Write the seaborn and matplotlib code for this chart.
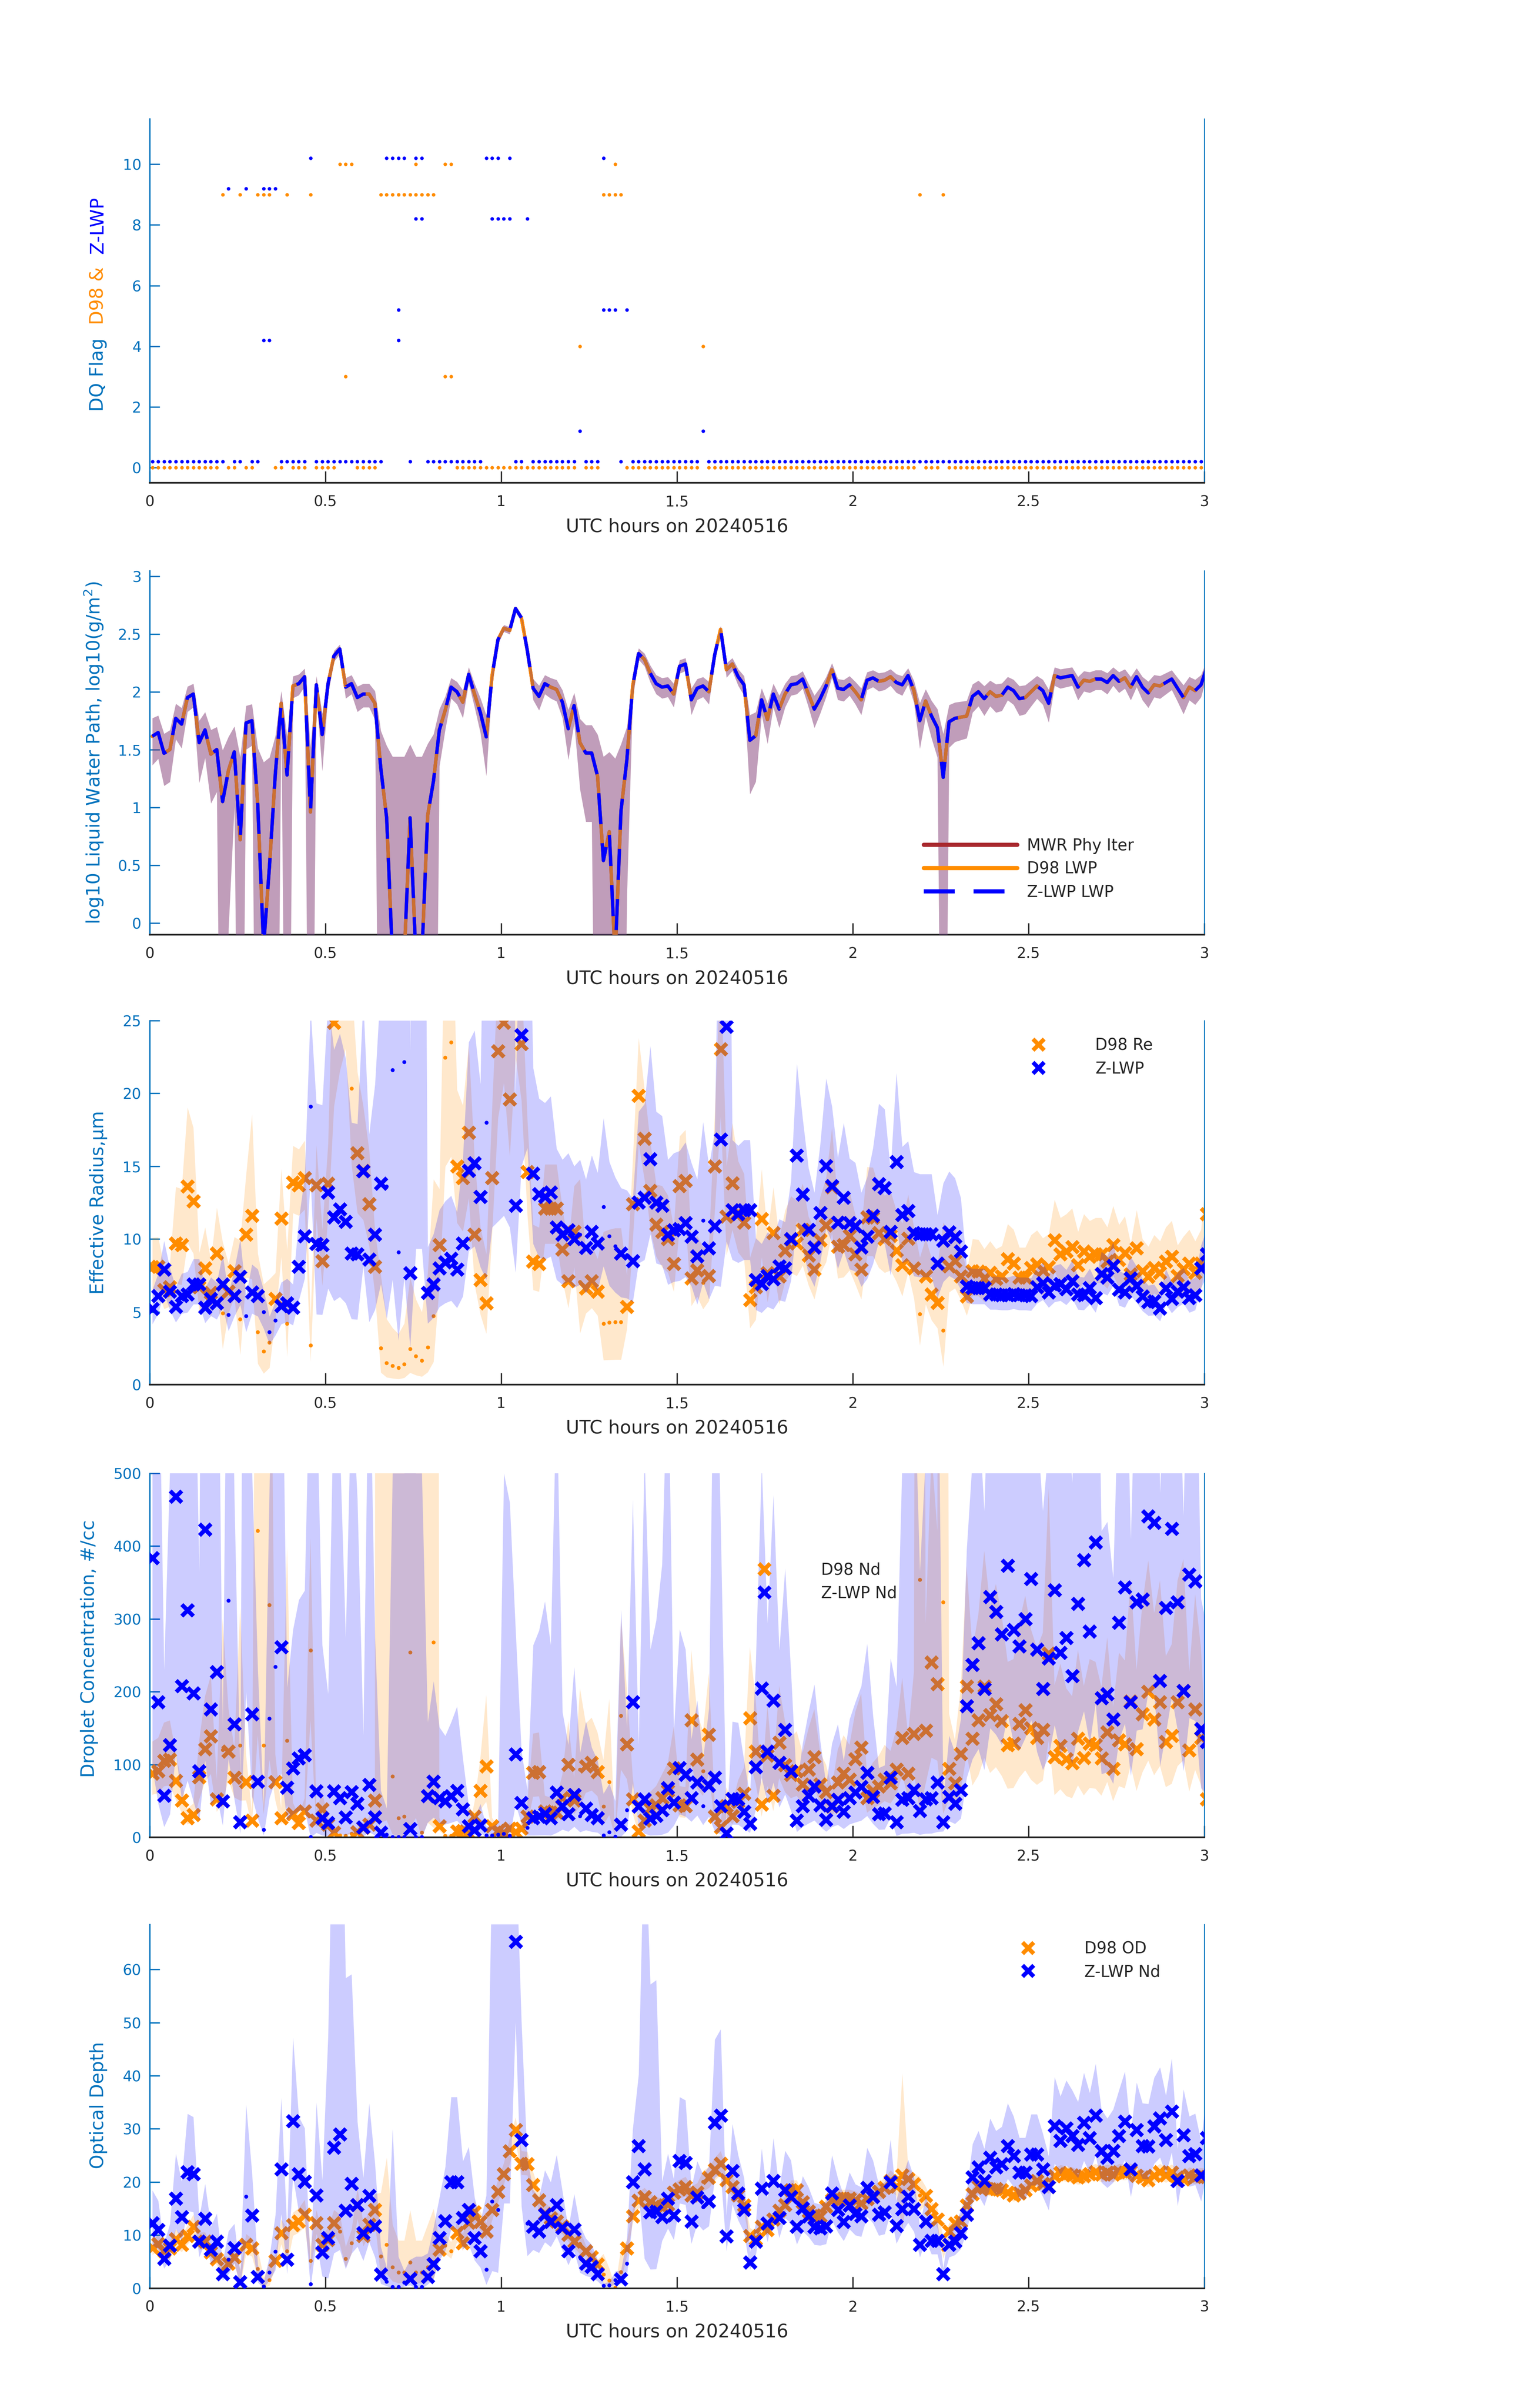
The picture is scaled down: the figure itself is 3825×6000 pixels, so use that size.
import numpy as np
import pandas as pd
import matplotlib
matplotlib.use("Agg")
import matplotlib.pyplot as plt
import seaborn as sns
from matplotlib.lines import Line2D
from matplotlib.ticker import FuncFormatter

# ---------------- data (1-minute samples, 181 points) ----------------
n_minutes = 181
start_offset_min = 0.45

d98_flag = [0,0,0,0,0,0,0,0,0,0,
            0,0,9,0,0,9,0,0,9,9,
            9,0,0,9,0,0,0,9,0,0,
            0,0,10,10,10,0,0,0,0,9,
            9,9,9,9,9,9,9,9,9,0,
            10,10,0,0,0,0,0,0,0,0,
            0,0,0,0,0,0,0,0,0,0,
            0,0,0,4,0,0,0,9,9,9,
            9,0,0,0,0,0,0,0,0,0,
            0,0,0,0,4,0,0,0,0,0,
            0,0,0,0,0,0,0,0,0,0,
            0,0,0,0,0,0,0,0,0,0,
            0,0,0,0,0,0,0,0,0,0,
            0,9,0,0,0,9,0,0,0,0,
            0,0,0,0,0,0,0,0,0,0,
            0,0,0,0,0,0,0,0,0,0,
            0,0,0,0,0,0,0,0,0,0,
            0,0,0,0,0,0,0,0,0,0,
            0]
d98_flag_extra_idx = [33, 45, 50, 51, 79]
d98_flag_extra_val = [3, 10, 3, 3, 10]

z_flag = [0,0,0,0,0,0,0,0,0,0,
          0,0,0,9,0,0,9,0,0,9,
          9,9,0,0,0,0,0,10,0,0,
          0,0,0,0,0,0,0,0,0,0,
          10,10,10,10,0,10,10,0,0,0,
          0,0,0,0,0,0,0,10,10,10,
          8,10,0,0,8,0,0,0,0,0,
          0,0,0,1,0,0,0,10,5,5,
          0,5,0,0,0,0,0,0,0,0,
          0,0,0,0,1,0,0,0,0,0,
          0,0,0,0,0,0,0,0,0,0,
          0,0,0,0,0,0,0,0,0,0,
          0,0,0,0,0,0,0,0,0,0,
          0,0,0,0,0,0,0,0,0,0,
          0,0,0,0,0,0,0,0,0,0,
          0,0,0,0,0,0,0,0,0,0,
          0,0,0,0,0,0,0,0,0,0,
          0,0,0,0,0,0,0,0,0,0,
          0]
z_flag_extra_idx = [19, 20, 42, 42, 45, 46, 58, 59, 61, 77]
z_flag_extra_val = [4, 4, 5, 4, 8, 8, 8, 8, 8, 5]

# log10 LWP (MWR Phy Iter, D98 and Z-LWP agree)
lwp_log = [1.615,1.647,1.468,1.50,1.77,1.72,1.95,1.98,1.56,1.67,
           1.46,1.50,1.05,1.32,1.48,0.72,1.73,1.75,1.02,-0.2,
           0.49,1.29,1.90,1.28,2.05,2.07,2.13,0.96,2.06,1.63,
           2.07,2.31,2.37,2.04,2.07,1.95,1.98,1.98,1.90,1.34,
           0.91,-0.3,-0.3,-0.3,0.91,-0.3,-0.3,0.93,1.23,1.67,
           1.84,2.04,2.00,1.91,2.15,1.98,1.82,1.61,2.14,2.45,
           2.55,2.53,2.72,2.64,2.36,2.03,1.96,2.07,2.04,2.02,
           1.91,1.68,1.88,1.56,1.47,1.47,1.27,0.54,0.79,-0.3,
           0.97,1.41,2.05,2.33,2.28,2.16,2.07,2.04,2.05,1.98,
           2.22,2.24,1.93,2.03,2.05,2.00,2.32,2.54,2.19,2.24,
           2.13,2.06,1.58,1.62,1.93,1.76,1.98,1.85,1.98,2.06,
           2.07,2.11,1.98,1.85,1.94,2.05,2.19,2.03,2.02,2.06,
           2.00,1.93,2.10,2.12,2.09,2.10,2.13,2.08,2.06,2.14,
           2.01,1.75,1.92,1.79,1.69,1.26,1.74,1.77,1.78,1.79,
           1.96,2.00,1.94,2.00,1.96,1.97,2.04,2.01,1.94,1.95,
           2.00,2.05,2.01,1.90,2.14,2.12,2.13,2.14,2.04,2.10,
           2.09,2.11,2.11,2.08,2.14,2.09,2.12,2.04,2.13,2.04,
           1.99,2.06,2.05,2.08,2.11,2.03,1.95,2.04,2.01,2.06,
           2.21]
# LWP uncertainty, g/m2
lwp_sigma = [18,18,14,15,20,20,22,22,20,20,
             18,18,20,20,20,22,22,22,22,24,
             24,22,22,22,24,24,24,24,22,22,
             22,22,22,22,22,22,22,22,22,24,
             26,27,27,27,27,27,27,27,26,24,
             22,22,22,22,22,22,22,22,22,22,
             24,24,24,24,24,22,22,22,22,22,
             22,22,22,22,22,22,24,24,24,26,
             26,24,24,24,24,24,22,22,22,22,
             22,22,22,22,22,22,24,24,22,22,
             22,22,25,25,22,22,22,22,22,22,
             22,22,22,22,22,22,22,22,22,22,
             22,22,22,22,22,22,22,22,22,22,
             22,24,22,22,22,25,22,22,22,22,
             25,25,25,25,25,25,25,25,25,25,
             25,25,25,25,25,25,25,25,25,25,
             25,25,25,25,25,25,25,25,25,25,
             25,25,25,25,25,25,25,25,25,25,
             25]

re_d98 = [8.08,8.1,6.5,6.7,9.7,9.6,13.6,12.6,6.7,8.0,
          6.3,9.0,4.9,6.4,7.8,4.5,10.3,11.6,3.6,2.3,
          2.9,5.9,11.4,4.2,13.9,13.7,14.2,2.7,13.7,8.5,
          13.8,24.85,28,30,20.35,15.9,14.7,12.4,8.1,2.5,
          1.5,1.3,1.16,1.4,2.45,1.95,1.66,2.55,4.7,9.6,
          22.45,23.5,15.0,14.2,17.3,10.3,7.2,5.6,14.2,22.9,
          24.85,19.6,27,23.4,14.6,8.45,8.3,12.1,12.1,12.1,
          9.3,7.1,10.5,7.06,6.6,7.1,6.4,4.2,4.26,4.3,
          4.3,5.35,12.4,19.85,16.9,13.3,11.0,10.5,10.0,8.3,
          13.65,14.0,7.3,7.86,7.0,7.48,14.99,23.04,11.55,13.82,
          11.8,11.13,5.82,6.69,11.38,7.65,10.43,7.44,9.2,9.96,
          9.71,10.63,8.87,7.91,9.93,10.93,13.56,9.49,9.59,10.21,
          8.95,7.91,11.5,11.47,10.43,9.99,10.21,9.2,8.2,10.04,
          7.98,4.85,7.44,6.19,5.63,3.72,8.12,8.48,7.44,6.07,
          7.81,7.78,7.28,7.7,7.28,7.44,8.62,8.32,7.36,7.36,
          8.03,8.28,7.86,8.08,9.93,8.95,9.15,9.46,8.2,9.15,
          8.79,8.95,8.95,8.45,9.59,8.58,9.04,7.58,9.37,7.81,
          7.41,8.03,7.7,8.45,8.79,7.48,7.95,8.32,7.7,8.32,
          11.72]
re_z = [5.2,6.1,7.9,6.4,5.35,6.1,6.2,6.9,6.9,5.3,
        5.9,5.6,6.9,4.8,6.1,7.4,4.7,6.35,6.1,5.0,
        3.6,4.4,5.4,5.6,5.3,8.1,10.2,19.1,9.66,9.6,
        13.2,11.5,12.05,11.2,9.0,8.95,14.65,8.6,10.3,13.8,
        13.6,21.6,9.1,22.15,7.65,28,28,6.3,6.9,8.0,
        8.4,8.65,7.9,9.7,14.7,15.2,12.9,18.0,27,28,
        29,27,12.3,24.0,26,14.5,13.1,12.9,13.2,10.8,
        10.3,10.6,10.0,10.3,9.4,10.5,9.7,12.2,10.2,9.5,
        9.0,8.9,8.5,12.5,12.85,15.5,12.5,12.3,10.3,10.6,
        10.7,11.1,10.16,8.82,11.27,9.37,10.88,16.83,24.58,12.0,
        11.72,12.0,12.0,7.19,6.91,7.48,7.24,8.12,7.98,9.99,
        15.74,13.06,10.63,9.42,11.8,15.02,13.65,11.13,12.84,11.1,
        10.88,9.42,10.16,11.6,13.78,13.51,10.5,15.29,11.67,11.94,
        10.43,10.33,10.33,10.33,8.32,9.88,10.46,10.13,9.15,6.74,
        6.64,6.64,6.64,6.19,6.19,6.14,6.14,6.24,6.14,6.14,
        6.1,6.69,6.98,6.35,6.81,6.91,6.57,7.11,6.19,6.14,
        6.64,5.94,7.61,7.36,8.15,6.52,6.35,7.31,6.77,6.07,
        5.68,5.73,5.23,6.61,5.9,6.4,6.69,5.94,6.14,7.98,
        8.95]
# multiplicative half-width of the uncertainty bands
re_d98_k = [1.25,1.25,1.25,1.25,1.4,1.4,1.4,1.4,1.35,1.35,
            1.35,1.35,2.0,1.3,1.3,2.2,1.4,1.6,2.5,3.0,
            2.5,1.3,1.3,2.2,1.18,1.18,1.18,1.7,1.2,1.25,
            1.2,1.3,1.3,1.3,1.35,1.35,1.3,1.3,1.3,3.0,
            3.0,3.0,3.0,3.0,3.0,3.0,3.0,3.0,3.0,1.4,
            1.5,1.5,1.35,1.35,1.35,1.5,1.5,1.6,1.35,1.25,
            1.2,1.25,1.2,1.2,1.25,1.3,1.3,1.25,1.25,1.25,
            1.3,1.35,1.3,2.0,1.35,1.35,1.35,2.5,2.5,2.5,
            2.5,1.4,1.25,1.2,1.2,1.25,1.25,1.3,1.3,1.3,
            1.25,1.25,1.35,1.3,1.35,1.3,1.25,1.25,1.3,1.3,
            1.3,1.3,1.5,1.5,1.3,1.35,1.3,1.35,1.3,1.3,
            1.3,1.3,1.3,1.35,1.3,1.3,1.3,1.3,1.3,1.3,
            1.3,1.35,1.3,1.3,1.3,1.3,1.3,1.3,1.35,1.3,
            1.35,1.8,1.35,1.4,1.45,3.0,1.28,1.28,1.28,1.28,
            1.28,1.28,1.28,1.28,1.28,1.28,1.28,1.28,1.28,1.28,
            1.28,1.28,1.28,1.28,1.28,1.28,1.28,1.28,1.28,1.28,
            1.28,1.28,1.28,1.28,1.28,1.28,1.28,1.28,1.28,1.28,
            1.28,1.28,1.28,1.28,1.28,1.28,1.28,1.28,1.28,1.28,
            1.28]
re_z_k = [1.25,1.25,1.25,1.25,1.25,1.25,1.25,1.25,1.25,1.25,
          1.25,1.25,1.3,1.3,1.3,1.35,1.3,1.3,1.3,1.3,
          1.3,1.3,1.3,1.3,1.3,1.4,1.4,1.35,2.0,2.0,
          2.0,2.0,2.0,2.0,2.0,2.0,1.8,2.0,2.0,2.0,
          3.0,3.0,3.0,3.0,3.0,3.0,3.0,1.5,1.5,1.5,
          1.5,1.5,1.5,1.6,1.6,1.6,1.6,2.5,2.5,2.5,
          2.5,2.5,1.6,1.6,1.6,1.5,1.5,1.5,1.5,1.5,
          1.5,1.5,1.5,1.5,1.5,1.5,1.5,1.5,1.5,1.5,
          1.5,1.5,1.5,1.5,1.5,1.5,1.5,1.5,1.5,1.5,
          1.5,1.5,1.5,1.6,1.6,1.6,1.6,2.5,2.5,1.4,
          1.4,1.4,1.4,1.4,1.4,1.4,1.4,1.4,1.4,1.4,
          1.4,1.4,1.4,1.4,1.4,1.4,1.4,1.4,1.4,1.4,
          1.4,1.4,1.4,1.4,1.4,1.4,1.4,1.4,1.4,1.4,
          1.4,1.4,1.4,1.4,1.4,1.4,1.4,1.4,1.4,1.2,
          1.2,1.2,1.2,1.2,1.2,1.2,1.2,1.2,1.2,1.2,
          1.2,1.2,1.2,1.2,1.2,1.2,1.2,1.2,1.2,1.2,
          1.2,1.2,1.2,1.2,1.2,1.2,1.2,1.2,1.2,1.2,
          1.2,1.2,1.2,1.2,1.2,1.2,1.2,1.2,1.2,1.2,
          1.2]

nd_d98 = [87.6,91,105,107,77.6,50.8,26.4,30.8,82.6,121,
          139,52.5,120,118,82,126,76,23,421,126,
          319,76,26.4,133,31.8,19.7,35.8,257,23,38.5,
          17.4,6.4,3,2.3,5,7.4,13,17.4,50.8,600,
          700,84,26.4,28.4,254,800,6.7,600,268,15.7,
          2.3,2.3,8.4,9,5.7,28.4,64,97.7,15.7,9,
          6.4,12.4,7.4,12.4,28.4,89,90,35.8,34,34,
          54,100,50.8,93,97.7,102.7,90,42.5,76,0.5,
          167,128,52.5,8.4,23,39,44,54,64,95,
          44,43,161,106.7,91,141,28.4,14,43,29,
          49,60,163.5,117.7,45,112.7,57.5,130,99.3,86,
          91,72.6,93.3,110,72.6,62.5,42.5,75.3,87.6,79.3,
          107.7,123.4,54,64.2,70,79.3,74.2,93.3,136.8,87.6,
          142,354,146.8,240.5,210.4,323,94.3,74.2,114.4,207,
          135.5,161,207,168,183,160,126.8,128.8,156,174.6,
          150,136.8,147.8,252.5,110,125.4,107.7,102,135.5,109.4,
          128.8,126.8,108.7,144.5,94.3,133.4,127.8,187,121,169,
          200,162,185.6,131,139.5,185.6,201,119.4,175.6,136.8,
          52.5]
nd_z = [383.6,185.6,57.5,126.8,468,208,311.7,198,91,423,
        175.6,227,49.8,325,155.5,20.7,600,169,76.6,10.7,
        163,234,261,68.6,95,108.7,113,0.7,63.2,26.4,
        19.7,63.2,54,27.4,62.5,46.5,14,72,27.4,6.4,
        4,0.5,0.5,0.5,11.7,0.5,0.5,56.5,76.6,54,
        49.8,56.5,64.2,38.5,15.7,9.7,16.4,3,3,4,
        5,2.3,114,47.5,13,26.4,28.4,32.4,26.4,61.9,
        43,31.8,58.5,29,39.8,30.8,26.4,3,7.4,1,
        17.4,37.5,185.6,42.5,52.5,25.8,29.8,37.5,67.6,48.2,
        95.3,86,54,75.3,43,71,82,43,5.7,53,
        52.5,35,19,96.7,204.7,117.7,188,102.7,147.8,91,
        23,43,57.5,70,44,24,43,51.8,35,54,
        62,69.2,88.6,55.9,31.8,33,82,20.7,51.8,54,
        65.2,36.5,52.5,54,75.3,20.7,55.9,46.5,65.2,180,
        237,267,203.7,330,310,279,373,285,262.5,300,
        355,258,203.7,245.8,339.5,253.8,274,221.4,320.7,381,
        282.6,405,191.3,197,162,295,343.5,186,323,326.8,
        441,432,215,315,423.7,323,201,360.9,351.8,148.8,
        131]
nd_d98_k = [1.5,1.5,1.5,1.5,1.5,1.5,1.5,1.5,1.6,1.6,
            1.6,1.5,2.5,1.5,1.5,2.5,1.5,1.5,3.0,4.0,
            3.0,1.5,1.5,3.0,1.5,1.5,1.5,1.6,1.6,1.6,
            1.6,1.6,1.6,1.6,1.6,1.6,1.6,1.6,1.6,30,
            30,20,20,20,20,30,80,30,20,1.7,
            1.7,1.7,1.7,1.7,1.7,1.7,1.7,2.0,1.7,1.6,
            1.6,1.6,1.6,1.6,1.6,1.6,1.6,1.6,1.6,1.6,
            1.6,1.6,1.6,2.2,1.6,1.6,1.6,2.5,2.5,2.0,
            1.8,1.6,1.6,1.6,1.6,1.6,1.6,1.6,1.6,1.6,
            1.6,1.6,1.6,1.6,1.6,1.6,1.6,1.6,1.6,1.6,
            1.6,1.6,1.6,1.6,1.6,1.6,1.6,1.6,1.6,1.6,
            1.6,1.6,1.6,1.6,1.6,1.6,1.6,1.6,1.6,1.6,
            1.6,1.6,1.6,1.6,1.6,1.6,1.6,1.6,1.6,1.6,
            1.6,10,2.0,2.2,2.0,10,1.8,1.8,1.8,1.8,
            1.9,1.9,1.9,1.9,1.9,1.9,1.9,1.9,1.9,1.9,
            1.9,1.9,1.9,1.9,1.9,1.9,1.9,1.9,1.9,1.9,
            1.9,1.9,1.9,1.9,1.9,1.9,1.9,1.9,1.9,1.9,
            1.9,1.9,1.9,1.9,1.9,1.9,1.9,1.9,1.9,1.9,
            1.9]
nd_z_k = [4,4,4,4,4,4,4,4,4,4,
          4,4,3,3,3,4,3,3,3,4,
          3,3,3,3,3,3,3,1000,10,10,
          10,10,10,10,10,10,10,10,10,10,
          10,1000,1000,1000,50,1000,1000,2.8,2.8,2.8,
          2.8,2.8,2.8,2.8,2.8,2.8,2.8,5,5,5,
          100,200,2.5,2.5,5,10,10,10,10,10,
          4,4,4,4,4,4,4,20,10,50,
          18,4,2.5,3,10,10,10,10,10,3,
          3,3,2.5,2.5,2.5,2.5,10,10,3,3,
          3,3,3,2.5,2.5,2.5,2.5,2.5,2.5,2.5,
          3,3,3,3,3,3,3,3,3,3,
          3,3,3,3,3,3,3,10,10,10,
          10,10,10,10,10,2.5,2.5,2.5,2.5,2.2,
          2.2,2.2,2.2,2.2,2.2,2.2,2.2,2.2,2.2,2.2,
          2.2,2.2,2.2,2.2,2.2,2.2,2.2,2.2,2.2,2.2,
          2.2,2.2,2.2,2.2,2.2,2.2,2.2,2.2,2.2,2.2,
          2.2,2.2,2.2,2.2,2.2,2.2,2.2,2.2,2.2,2.2,
          2.2]

od_d98 = [7.6,8.4,7.0,7.5,9.3,8.2,9.9,11.6,8.8,8.8,
          6.8,5.5,3.5,4.7,5.9,1.2,8.2,7.5,3.7,0.4,
          1.6,5.2,10.4,7.0,11.9,12.6,13.9,5.2,12.3,8.2,
          9.1,12.3,10.7,5.6,8.5,15.7,9.9,12.0,14.8,6,
          8.2,4,3,3,4.9,3,3,4,5.0,7.3,
          8.1,7.0,10.5,8.5,12.4,14.3,12.5,10.7,14.8,18.2,
          21.5,25.8,29.8,23.5,23.4,19.5,16.6,14.0,13.2,12.6,
          11.7,10.1,8.8,8.4,7.0,5.9,4.5,2.6,1.5,0.1,
          3.1,7.5,13.6,16.5,17.2,16.2,15.6,15.4,15.8,18.0,
          18.6,19.1,17.5,18.0,20.1,20.8,22.3,23.5,20.4,19.1,
          17.5,15.6,9.9,9.3,11.6,11.0,13.0,14.6,15.7,18.5,
          18.5,16.2,14.5,13.7,13.6,15.4,16.6,16.9,16.9,16.9,
          16.6,16.0,16.8,17.3,18.2,18.9,20.2,19.2,21.3,20.6,
          19.6,17.5,17.4,14.9,13.0,7.3,10.7,12.2,12.6,15.6,
          17.7,19.2,18.9,18.6,18.7,18.5,18.0,17.5,17.9,18.5,
          19.4,20.2,19.7,19.1,21.1,21.7,21.5,21.3,20.9,21.1,
          21.5,21.9,21.4,21.8,21.4,21.9,21.8,22.0,21.2,20.9,
          20.4,21.2,21.9,21.3,21.8,20.9,20.5,21.3,21.0,21.2,
          21.0]
od_z = [12.3,11.0,5.6,8.1,16.9,13.4,21.9,21.5,8.8,13.1,
        7.3,8.8,2.7,5.4,7.6,1.2,17.3,13.7,2.2,0.4,
        3.0,6.9,22.4,5.4,31.5,21.5,20.1,0.8,17.5,6.8,
        9.5,26.5,29.0,14.6,19.7,15.7,10.4,17.4,11.7,2.6,
        1.3,0.3,0.3,1.1,1.8,0.3,0.3,2.2,4.6,9.5,
        12.7,20.0,20.0,13.3,14.8,9.5,7.0,3.5,16.4,14.8,
        80,80,65.2,27.9,12.2,11.6,10.7,13.9,12.5,15.7,
        11.4,7.0,11.1,5.9,4.7,4.1,2.7,0.5,0.6,1.6,
        1.7,4.7,20.0,26.8,22.4,14.3,14.5,13.4,16.9,13.7,
        24.0,23.6,12.6,17.1,15.3,16.4,31.2,32.5,9.8,22.1,
        17.9,14.8,4.9,8.8,18.8,12.2,20.2,13.3,18.5,17.2,
        11.6,15.1,13.6,11.5,11.3,11.7,17.9,14.8,12.5,15.6,
        14.0,13.6,18.9,17.2,13.9,14.3,20.0,11.8,14.9,17.3,
        14.9,8.2,12.6,9.0,9.0,2.7,8.2,8.8,10.4,13.9,
        20.9,22.8,20.2,24.6,22.8,23.4,26.8,24.9,21.8,21.8,
        25.2,25.2,22.4,19.1,30.6,27.8,30.1,28.7,27.0,31.2,
        28.3,32.5,25.9,24.6,25.9,28.7,31.4,22.4,29.8,26.8,
        26.7,30.5,32.0,27.9,33.3,20.2,28.8,24.9,25.3,21.3,
        28.3]
od_d98_k = [1.2,1.2,1.2,1.2,1.2,1.2,1.2,1.2,1.2,1.2,
            1.2,1.25,1.8,1.25,1.25,3.0,1.25,1.25,2.0,5.0,
            3.0,1.25,1.25,1.6,1.2,1.2,1.2,1.5,1.2,1.25,
            1.25,1.2,1.3,1.4,1.3,1.2,1.25,1.2,1.2,3.0,
            3.0,3.0,3.0,3.0,3.0,3.0,3.0,3.0,3.0,1.2,
            1.25,1.25,1.2,1.2,1.15,1.15,1.15,1.15,1.15,1.12,
            1.1,1.1,1.08,1.1,1.1,1.12,1.12,1.15,1.15,1.15,
            1.15,1.15,1.15,1.3,1.15,1.2,1.2,2.5,2.5,2.5,
            2.5,1.2,1.1,1.1,1.1,1.1,1.1,1.1,1.1,1.1,
            1.1,1.1,1.1,1.1,1.1,1.1,1.1,1.1,1.1,1.1,
            1.1,1.1,1.15,1.15,1.1,1.1,1.1,1.1,1.1,1.1,
            1.1,1.1,1.1,1.1,1.1,1.1,1.1,1.1,1.1,1.1,
            1.1,1.1,1.1,1.1,1.1,1.1,1.1,1.1,1.9,1.1,
            1.1,1.2,1.1,1.1,1.15,1.3,1.15,1.1,1.1,1.1,
            1.07,1.07,1.07,1.07,1.07,1.07,1.07,1.07,1.07,1.07,
            1.07,1.07,1.07,1.07,1.07,1.07,1.07,1.07,1.07,1.07,
            1.07,1.07,1.07,1.07,1.07,1.07,1.07,1.07,1.07,1.07,
            1.07,1.07,1.07,1.07,1.07,1.07,1.07,1.07,1.07,1.07,
            1.07]
od_z_k = [1.5,1.5,1.5,1.5,1.5,1.5,1.5,1.5,1.5,1.5,
          1.6,1.6,1.8,2.0,1.6,2.5,2.0,1.6,2.0,3.0,
          2.0,2.0,1.6,2.0,1.5,1.5,1.5,5,2.0,3.0,
          5,4,4,4,3,2,2,2,2,3,
          3,100,20,3,3,20,20,3,2.5,1.8,
          1.8,1.8,1.8,1.8,1.8,1.8,1.8,5,5,5,
          5,5,1.3,1.8,2.0,1.6,1.6,1.6,1.6,1.6,
          1.6,1.6,1.6,2,2,2,2,2,2,2,
          2,2,1.5,1.5,4,4,4,1.5,1.5,1.5,
          1.5,1.5,1.5,1.4,1.4,1.4,1.5,1.5,1.4,1.4,
          1.4,1.4,1.4,1.4,1.4,1.4,1.4,1.4,1.4,1.4,
          1.4,1.4,1.4,1.4,1.4,1.4,1.4,1.4,1.4,1.4,
          1.4,1.4,1.4,1.4,1.4,1.4,1.4,1.4,1.4,1.4,
          1.4,1.4,1.4,1.4,1.4,1.4,1.4,1.4,1.4,1.3,
          1.3,1.3,1.3,1.3,1.3,1.3,1.3,1.3,1.3,1.3,
          1.3,1.3,1.3,1.3,1.3,1.3,1.3,1.3,1.3,1.3,
          1.3,1.3,1.3,1.3,1.3,1.3,1.3,1.3,1.3,1.3,
          1.3,1.3,1.3,1.3,1.3,1.3,1.3,1.3,1.3,1.3,
          1.3]

x_ticks = [0, 0.5, 1, 1.5, 2, 2.5, 3]
x_label = "UTC hours on 20240516"

# ---------------- style ----------------
sns.set_theme(style="white")
plt.rcParams['font.family'] = ['DejaVu Sans']

AXBLUE = '#0072BD'
ORANGE = '#FF8C00'
BLUE = '#0000FF'
RED = '#A8282E'
DARK = '#262626'

utc = (np.arange(n_minutes) + start_offset_min) / 60.0

fig = plt.figure(figsize=(12.75, 20), dpi=300)
L, W, H = 0.0975, 0.687, 0.1512
bottoms = [0.7995, 0.6118, 0.4250, 0.2370, 0.0497]
axes = [fig.add_axes([L, b, W, H]) for b in bottoms]

fmt = FuncFormatter(lambda v, p: f"{v:g}")


def style(ax, ylim, yticks):
    ax.set_facecolor('white')
    ax.grid(False)
    ax.set_xlim(0, 3)
    ax.set_ylim(*ylim)
    ax.set_xticks(x_ticks)
    ax.set_yticks(yticks)
    ax.xaxis.set_major_formatter(fmt)
    ax.yaxis.set_major_formatter(fmt)
    ax.spines['top'].set_visible(False)
    ax.spines['left'].set_color(AXBLUE)
    ax.spines['left'].set_linewidth(0.8)
    ax.spines['right'].set_color(AXBLUE)
    ax.spines['right'].set_linewidth(0.6)
    ax.spines['bottom'].set_color(DARK)
    ax.spines['bottom'].set_linewidth(1.0)
    ax.tick_params(axis='x', which='both', direction='in', length=7, width=0.8,
                   color=DARK, labelcolor=DARK, labelsize=8.8, pad=7,
                   bottom=True, top=False)
    ax.tick_params(axis='y', which='both', direction='in', length=6, width=0.8,
                   color=AXBLUE, labelcolor=AXBLUE, labelsize=8.8, pad=5,
                   left=True, right=False)
    ax.set_xlabel(x_label, fontsize=11, color=DARK, labelpad=5)


# ---------- panel 1: DQ flags ----------
ax = axes[0]
d98f = np.asarray(d98_flag, float)
zf = np.asarray(z_flag, float)
sns.scatterplot(x=utc, y=d98f, marker='o', s=4.5, linewidth=0, color=ORANGE,
                ax=ax, legend=False, zorder=3)
sns.scatterplot(x=utc[d98_flag_extra_idx], y=np.asarray(d98_flag_extra_val, float),
                marker='o', s=4.5, linewidth=0, color=ORANGE, ax=ax, legend=False, zorder=3)
sns.scatterplot(x=utc, y=zf + 0.2, marker='o', s=4.5, linewidth=0, color=BLUE,
                ax=ax, legend=False, zorder=4)
sns.scatterplot(x=utc[z_flag_extra_idx], y=np.asarray(z_flag_extra_val, float) + 0.2,
                marker='o', s=4.5, linewidth=0, color=BLUE, ax=ax, legend=False, zorder=4)
style(ax, (-0.5, 11.5), [0, 2, 4, 6, 8, 10])
ax.set_ylabel('')

# ---------- panel 2: LWP ----------
ax = axes[1]
lwp = np.asarray(lwp_log, float)
sig = np.asarray(lwp_sigma, float)
lin = 10 ** lwp
lo = np.log10(np.clip(lin - sig, 1e-4, None))
hi = np.log10(lin + sig)
for i, (col, z) in enumerate([(RED, 1), (ORANGE, 3), (BLUE, 5)]):
    ax.fill_between(utc, lo, hi, color=col, alpha=0.2, linewidth=0, zorder=z)
    sns.lineplot(x=utc, y=lwp, ax=ax, color=col, linewidth=2.0, zorder=z + 1,
                 legend=False, estimator=None)
ax.lines[-1].set_dashes([9.3, 5.7])
style(ax, (-0.102, 3.047), [0, 0.5, 1, 1.5, 2, 2.5, 3])
ax.set_ylabel('log10 Liquid Water Path, log10(g/m$^2$)', fontsize=11, color=AXBLUE)
ax.yaxis.set_label_coords(-0.0425, 0.5)
h2 = [Line2D([], [], color=RED, lw=2.5),
      Line2D([], [], color=ORANGE, lw=2.5),
      Line2D([], [], color=BLUE, lw=2.5, dashes=(7.4, 4.5))]
ax.legend(h2, ['MWR Phy Iter', 'D98 LWP', 'Z-LWP LWP'], loc='center left',
          bbox_to_anchor=(0.734, 0.18), frameon=False, fontsize=9.5,
          handlelength=5.9, handletextpad=0.6, labelspacing=0.45,
          borderpad=0, borderaxespad=0)


def draw_series(ax, vals, kfac, flags, color, z0):
    v = np.asarray(vals, float)
    k = np.asarray(kfac, float)
    ax.fill_between(utc, v / k, v * k, color=color, alpha=0.2, linewidth=0, zorder=z0)
    good = np.asarray(flags) == 0
    df = pd.DataFrame({'t': utc, 'v': v})
    sns.scatterplot(data=df[good], x='t', y='v', marker='x', s=48, linewidth=2.5,
                    color=color, ax=ax, zorder=z0 + 1, legend=False)
    sns.scatterplot(data=df[~good], x='t', y='v', marker='o', s=5.5, linewidth=0,
                    color=color, ax=ax, zorder=z0 + 1, legend=False)


def marker_legend(ax, labels, anchor):
    hs = [Line2D([], [], marker='x', ls='none', color=ORANGE, markersize=6.9, markeredgewidth=2.5),
          Line2D([], [], marker='x', ls='none', color=BLUE, markersize=6.9, markeredgewidth=2.5)]
    ax.legend(hs, labels, loc='center left', bbox_to_anchor=anchor, frameon=False,
              fontsize=9.5, handlelength=5.9, handletextpad=0.6, labelspacing=0.45,
              borderpad=0, borderaxespad=0, numpoints=1)


# ---------- panel 3: Re ----------
ax = axes[2]
draw_series(ax, re_d98, re_d98_k, d98_flag, ORANGE, 1)
draw_series(ax, re_z, re_z_k, z_flag, BLUE, 3)
style(ax, (0, 25), [0, 5, 10, 15, 20, 25])
ax.set_ylabel('Effective Radius,\u03bcm', fontsize=11, color=AXBLUE)
ax.yaxis.set_label_coords(-0.040, 0.5)
marker_legend(ax, ['D98 Re', 'Z-LWP'], (0.7986, 0.8985))

# ---------- panel 4: Nd ----------
ax = axes[3]
draw_series(ax, nd_d98, nd_d98_k, d98_flag, ORANGE, 1)
draw_series(ax, nd_z, nd_z_k, z_flag, BLUE, 3)
style(ax, (0, 500), [0, 100, 200, 300, 400, 500])
ax.set_ylabel('Droplet Concentration, #/cc', fontsize=11, color=AXBLUE)
ax.yaxis.set_label_coords(-0.0486, 0.518)
marker_legend(ax, ['D98 Nd', 'Z-LWP Nd'], (0.5386, 0.7015))

# ---------- panel 5: OD ----------
ax = axes[4]
draw_series(ax, od_d98, od_d98_k, d98_flag, ORANGE, 1)
draw_series(ax, od_z, od_z_k, z_flag, BLUE, 3)
style(ax, (0, 68.5), [0, 10, 20, 30, 40, 50, 60])
ax.set_ylabel('Optical Depth', fontsize=11, color=AXBLUE)
ax.yaxis.set_label_coords(-0.040, 0.503)
marker_legend(ax, ['D98 OD', 'Z-LWP Nd'], (0.7886, 0.90))

# ---------- multi-colour y label of panel 1 ----------
ax = axes[0]
renderer = fig.canvas.get_renderer()
ypos = 0.196
gap = 0.037
for txt, col in [("DQ Flag", AXBLUE), ("D98 &", ORANGE), ("Z-LWP", BLUE)]:
    t = ax.text(-0.044, ypos, txt, transform=ax.transAxes, rotation=90,
                rotation_mode='anchor', ha='left', va='baseline', fontsize=11, color=col)
    bb = t.get_window_extent(renderer=renderer).transformed(ax.transAxes.inverted())
    ypos = bb.y1 + gap

fig.savefig('out.png', dpi=300, facecolor='white')
